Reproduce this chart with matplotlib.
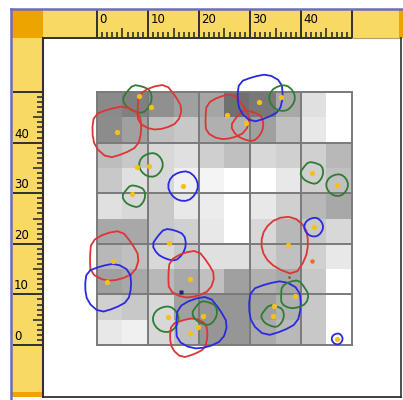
import numpy as np
import matplotlib
matplotlib.use('Agg')
import matplotlib.pyplot as plt

# Gray cell values (rows top -> bottom, 0..255)
cells = [
    [138, 128, 144, 160, 165, 112, 120, 168, 224, 255],
    [140, 160, 192, 200, 176, 176, 160, 192, 232, 255],
    [189, 200, 216, 224, 207, 192, 216, 208, 208, 184],
    [200, 224, 216, 240, 244, 255, 255, 232, 208, 192],
    [224, 216, 200, 232, 236, 255, 232, 208, 184, 168],
    [168, 168, 200, 208, 232, 255, 216, 184, 200, 216],
    [184, 192, 216, 200, 224, 224, 208, 192, 208, 232],
    [160, 168, 184, 168, 192, 160, 176, 168, 200, 255],
    [208, 200, 216, 160, 150, 150, 160, 176, 200, 255],
    [232, 240, 216, 192, 150, 150, 170, 185, 200, 255],
]

# Blobs: centre, radius, colour, outline profile
blob_x = [8.0, 12.0, 3.9, 10.6, 7.3, 16.9, 25.3, 29.6, 32.0, 36.3, 42.2, 47.1,
          14.3, 3.1, 2.2, 18.2, 13.5, 18.0, 20.2, 21.2, 36.7, 42.5, 34.9, 38.6, 34.5, 47.1]
blob_y = [48.6, 46.8, 42.3, 35.6, 29.4, 31.4, 44.9, 43.3, 49.0, 48.8, 34.0, 31.6,
          19.8, 17.4, 11.5, 13.8, 5.1, 1.6, 4.2, 6.3, 20.2, 23.3, 7.5, 9.9, 5.7, 1.2]
blob_r = [2.8, 4.5, 5.1, 2.4, 2.2, 3.0, 4.5, 3.1, 4.7, 2.6, 2.2, 2.2,
          3.2, 5.0, 4.8, 4.7, 2.6, 3.9, 5.2, 2.4, 5.0, 1.9, 5.4, 2.8, 2.2, 1.1]
blob_c = ['g', 'r', 'r', 'g', 'g', 'b', 'r', 'r', 'b', 'g', 'g', 'g',
          'b', 'r', 'b', 'r', 'g', 'r', 'b', 'g', 'r', 'b', 'b', 'g', 'g', 'b']
blob_p = [0, 1, 2, 3, 0, 3, 1, 0, 2, 3, 0, 3,
          0, 1, 2, 1, 3, 2, 1, 0, 4, 3, 2, 1, 0, 3]

profiles = [
    [1.00, 1.08, 0.95, 1.05, 0.92, 1.10, 0.97, 0.90, 1.06, 0.98],
    [1.05, 0.92, 1.10, 0.98, 1.04, 0.90, 1.08, 1.00, 0.94, 1.06],
    [0.95, 1.10, 1.02, 0.90, 1.08, 0.96, 1.05, 1.12, 0.92, 1.00],
    [1.00, 1.00, 1.04, 0.96, 1.00, 1.02, 0.98, 1.00, 1.03, 0.97],
    [0.95, 1.05, 1.10, 1.02, 0.95, 0.92, 0.96, 1.05, 1.35, 1.05],
]
colors = {'r': '#dd3535', 'g': '#2f7d32', 'b': '#2a2ae0'}

# Yellow sample points
dot_x = [8.2, 10.6, 3.9, 7.8, 10.2, 6.9, 16.9, 25.5, 29.2, 31.8, 36.1, 42.2, 47.1,
         14.1, 3.1, 2.0, 18.2, 13.9, 18.2, 19.8, 20.8, 37.5, 42.5, 34.7, 34.5, 38.8, 47.1]
dot_y = [49.2, 47.0, 42.1, 35.2, 35.4, 29.8, 31.4, 45.5, 43.9, 48.0, 49.0, 34.0, 31.6,
         20.2, 16.6, 12.5, 13.0, 5.5, 2.4, 3.6, 5.7, 19.8, 23.3, 7.7, 5.7, 9.7, 1.2]

ruler_labels = ['0', '10', '20', '30', '40']

W, H = 403, 400
x0px, x1px = 97, 352
y0px, y1px = 345, 92
sx = (x1px - x0px) / 50.0
sy = (y0px - y1px) / 50.0


def dx(px):
    return (px - x0px) / sx


def dy(py):
    return (y0px - py) / sy


def chaikin(px, py, n=1):
    # corner cutting to soften the polygon outline
    for _ in range(n):
        qx = 0.75 * px + 0.25 * np.roll(px, -1)
        qy = 0.75 * py + 0.25 * np.roll(py, -1)
        rx = 0.25 * px + 0.75 * np.roll(px, -1)
        ry = 0.25 * py + 0.75 * np.roll(py, -1)
        px = np.column_stack([qx, rx]).ravel()
        py = np.column_stack([qy, ry]).ravel()
    return px, py


def rect(x_a, y_a, x_b, y_b, color, z=0):
    # rectangle given in screen pixels
    ax.add_patch(plt.Rectangle((dx(x_a), dy(y_b)), dx(x_b) - dx(x_a), dy(y_a) - dy(y_b),
                               facecolor=color, edgecolor='none', zorder=z))


yellow = '#f8d964'
orange = '#eea400'
dark = '#303030'
frame = '#6c6cbc'

fig = plt.figure(figsize=(W / 100, H / 100), dpi=100)
fig.patch.set_facecolor('white')
ax = fig.add_axes([0, 0, 1, 1])
ax.set_xlim(dx(0), dx(W))
ax.set_ylim(dy(H), dy(0))
ax.axis('off')

# grid of gray cells
edges = np.arange(0, 51, 5)
ax.pcolormesh(edges, edges, np.array(cells)[::-1], cmap='gray', vmin=0, vmax=255, zorder=1)
for v in range(0, 51, 10):
    ax.plot([v, v], [0, 50], color='#7a7a7a', lw=1.4, zorder=2)
    ax.plot([0, 50], [v, v], color='#7a7a7a', lw=1.4, zorder=2)

# blobs and points
ang = np.linspace(0, 2 * np.pi, 11)[:-1]
for bx, by, br, bc, bp in zip(blob_x, blob_y, blob_r, blob_c, blob_p):
    f = np.array(profiles[bp])
    px, py = chaikin(bx + br * f * np.cos(ang), by + br * f * np.sin(ang))
    ax.fill(px, py, facecolor='none', edgecolor=colors[bc], lw=1.3, zorder=3)

ax.plot(dot_x, dot_y, 'o', color='#f2c21b', ms=3.8, mec='none', zorder=4)
ax.plot([42.2], [16.6], 'o', color='#e8701c', ms=3.2, mec='none', zorder=4)
ax.plot([16.5], [10.5], 's', color='#202070', ms=2.6, mec='none', zorder=4)
ax.plot([37.6], [13.4], 's', color='#604020', ms=1.6, mec='none', zorder=4)

# rulers
rect(12, 10, W, 38, yellow, 5)
rect(12, 38, 43, 397, yellow, 5)
rect(12, 10, 43, 38, orange, 6)
rect(399, 10, W, 38, orange, 6)
rect(12, 392, 43, 397, orange, 6)

units = np.arange(0, 51)
major = units[units % 10 == 0]
mid = units[(units % 5 == 0) & (units % 10 != 0)]
minor = units[units % 5 != 0]

# top ruler: ticks rise from the bottom edge
ax.vlines(minor, dy(38), dy(32), color=dark, lw=1.2, zorder=7)
ax.vlines(mid, dy(38), dy(28), color=dark, lw=1.2, zorder=7)
ax.vlines(major, dy(38), dy(10), color=dark, lw=1.4, zorder=7)
# left ruler: ticks run left from the right edge
ax.hlines(minor, dx(37), dx(43), color=dark, lw=1.2, zorder=7)
ax.hlines(mid, dx(33), dx(43), color=dark, lw=1.2, zorder=7)
ax.hlines(major, dx(13), dx(43), color=dark, lw=1.4, zorder=7)

for i, lab in enumerate(ruler_labels):
    ax.text(i * 10 + 0.5, dy(13), lab, ha='left', va='top', fontsize=8.5,
            color='black', zorder=8)
    ax.text(dx(14), i * 10 + 0.4, lab, ha='left', va='bottom', fontsize=8.5,
            color='black', zorder=8)

# canvas edges
ax.plot([dx(43), dx(352)], [dy(37.5), dy(37.5)], color=dark, lw=1.4, zorder=8)
ax.plot([dx(352), dx(401)], [dy(38), dy(38)], color='#b0a070', lw=0.8, zorder=8)
ax.plot([dx(43.5), dx(43.5)], [dy(37.5), dy(397)], color=dark, lw=1.5, zorder=8)
ax.plot([dx(43), dx(401)], [dy(396.5), dy(396.5)], color=dark, lw=1.3, zorder=8)
ax.plot([dx(400.5), dx(400.5)], [dy(38), dy(397)], color=dark, lw=1.2, zorder=8)

# window frame
ax.plot([dx(11), dx(11)], [dy(9), dy(H)], color=frame, lw=1.8, zorder=9)
ax.plot([dx(11), dx(W)], [dy(9), dy(9)], color=frame, lw=1.8, zorder=9)

fig.savefig('out.png', dpi=100)
